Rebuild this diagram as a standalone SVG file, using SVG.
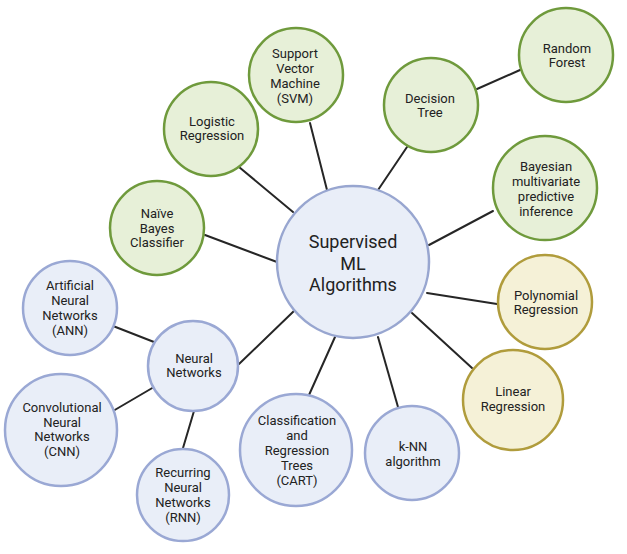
<svg xmlns="http://www.w3.org/2000/svg" width="627" height="554" viewBox="0 0 627 554">
<style>
.g{fill:#e7f0d8;stroke:#6f9a3c;stroke-width:2.5}
.b{fill:#e9eef8;stroke:#9aa8d4;stroke-width:2.5}
.y{fill:#f5f1d7;stroke:#b09c3c;stroke-width:2.5}
.c{fill:#e9eef8;stroke:#98a6d0;stroke-width:2.5}
text{font-family:Roboto,"Liberation Sans",sans-serif;font-size:13px;fill:#222;text-anchor:middle}
.big{font-size:18px}
#edges line{stroke:#262626;stroke-width:2;stroke-linecap:round}
</style>
<rect width="627" height="554" fill="#fff"/>
<g id="edges">
<line x1="327" y1="190" x2="310" y2="123"/>
<line x1="293" y1="212" x2="239" y2="167"/>
<line x1="277" y1="262" x2="205" y2="235"/>
<line x1="376" y1="193" x2="407" y2="147"/>
<line x1="477" y1="89" x2="520" y2="70"/>
<line x1="429" y1="245" x2="493" y2="211"/>
<line x1="427" y1="293" x2="497" y2="304"/>
<line x1="412" y1="313" x2="472" y2="368"/>
<line x1="378" y1="337" x2="398" y2="407"/>
<line x1="335" y1="337" x2="309" y2="395"/>
<line x1="295" y1="310" x2="239" y2="364"/>
<line x1="113" y1="326" x2="154" y2="342"/>
<line x1="113" y1="411" x2="154" y2="387"/>
<line x1="194" y1="411" x2="183" y2="448"/>
</g>
<g id="central"><circle class="c" cx="353" cy="262" r="76"/><text class="big" x="353"><tspan x="353" y="248">Supervised</tspan><tspan x="353" y="270">ML</tspan><tspan x="353" y="291">Algorithms</tspan></text></g>
<g id="svm"><circle class="g" cx="296" cy="75" r="47"/><text><tspan x="295" y="58.3">Support</tspan><tspan x="295" dy="14.8">Vector</tspan><tspan x="295" dy="14.8">Machine</tspan><tspan x="295" dy="14.8">(SVM)</tspan></text></g>
<g id="logistic"><circle class="g" cx="211" cy="129" r="47"/><text><tspan x="212" y="125.6">Logistic</tspan><tspan x="212" dy="14.8">Regression</tspan></text></g>
<g id="naive"><circle class="g" cx="157" cy="228" r="47"/><text><tspan x="157" y="217.7">Naïve</tspan><tspan x="157" dy="14.8">Bayes</tspan><tspan x="157" dy="14.8">Classifier</tspan></text></g>
<g id="decision"><circle class="g" cx="431" cy="105" r="47"/><text><tspan x="430" y="102.6">Decision</tspan><tspan x="430" dy="14.8">Tree</tspan></text></g>
<g id="random"><circle class="g" cx="566" cy="55" r="47"/><text><tspan x="567" y="52.6">Random</tspan><tspan x="567" dy="14.8">Forest</tspan></text></g>
<g id="bayesian"><circle class="g" cx="545" cy="188" r="52"/><text><tspan x="546" y="171.3">Bayesian</tspan><tspan x="546" dy="14.8">multivariate</tspan><tspan x="546" dy="14.8">predictive</tspan><tspan x="546" dy="14.8">inference</tspan></text></g>
<g id="polynomial"><circle class="y" cx="545" cy="302" r="47"/><text><tspan x="546" y="299.6">Polynomial</tspan><tspan x="546" dy="14.8">Regression</tspan></text></g>
<g id="linear"><circle class="y" cx="513" cy="400" r="50"/><text><tspan x="513" y="396.1">Linear</tspan><tspan x="513" dy="14.8">Regression</tspan></text></g>
<g id="ann"><circle class="b" cx="70" cy="308" r="47"/><text><tspan x="70" y="290.3">Artificial</tspan><tspan x="70" dy="14.8">Neural</tspan><tspan x="70" dy="14.8">Networks</tspan><tspan x="70" dy="14.8">(ANN)</tspan></text></g>
<g id="neural"><circle class="b" cx="193" cy="366" r="45"/><text><tspan x="194" y="362.6">Neural</tspan><tspan x="194" dy="14.8">Networks</tspan></text></g>
<g id="cnn"><circle class="b" cx="61" cy="430" r="56"/><text><tspan x="62" y="411.8">Convolutional</tspan><tspan x="62" dy="14.8">Neural</tspan><tspan x="62" dy="14.8">Networks</tspan><tspan x="62" dy="14.8">(CNN)</tspan></text></g>
<g id="rnn"><circle class="b" cx="183" cy="495" r="46"/><text><tspan x="183" y="477.3">Recurring</tspan><tspan x="183" dy="14.8">Neural</tspan><tspan x="183" dy="14.8">Networks</tspan><tspan x="183" dy="14.8">(RNN)</tspan></text></g>
<g id="cart"><circle class="b" cx="296" cy="450" r="56"/><text><tspan x="297" y="425.4">Classification</tspan><tspan x="297" dy="14.8">and</tspan><tspan x="297" dy="14.8">Regression</tspan><tspan x="297" dy="14.8">Trees</tspan><tspan x="297" dy="14.8">(CART)</tspan></text></g>
<g id="knn"><circle class="b" cx="412" cy="453" r="47"/><text><tspan x="413" y="451.1">k-NN</tspan><tspan x="413" dy="14.8">algorithm</tspan></text></g>
</svg>
